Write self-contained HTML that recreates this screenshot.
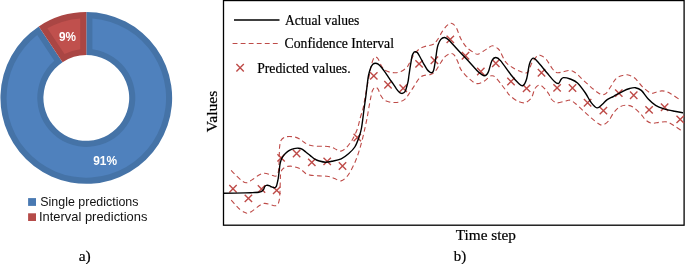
<!DOCTYPE html>
<html lang="en"><head><meta charset="utf-8"><title>Figure</title>
<style>html,body{margin:0;padding:0;background:#fff;}body{width:685px;height:264px;overflow:hidden;}svg{display:block;}</style></head>
<body>
<svg width="685" height="264" viewBox="0 0 685 264">
<rect width="685" height="264" fill="#fff"/>
<path d="M86.30,12.10 A85.85,85.85 0 1 1 38.79,26.44 L62.56,62.22 A42.90,42.90 0 1 0 86.30,55.05 Z" fill="#4573A7"/>
<path d="M38.79,26.44 A85.85,85.85 0 0 1 86.30,12.10 L86.30,55.05 A42.90,42.90 0 0 0 62.56,62.22 Z" fill="#AA4644"/>
<path d="M92.40,18.43 A79.75,79.75 0 1 1 37.22,35.09 L54.31,60.83 A49.00,49.00 0 1 0 92.40,49.33 Z" fill="#4F81BD"/>
<path d="M47.38,28.34 A79.75,79.75 0 0 1 80.20,18.43 L80.20,49.33 A49.00,49.00 0 0 0 64.48,54.08 Z" fill="#C0504D"/>
<g font-family="'Liberation Sans', 'DejaVu Sans', sans-serif" font-weight="bold" fill="#fff" font-size="13">
<text x="93.2" y="165.2" textLength="23.8" lengthAdjust="spacingAndGlyphs">91%</text>
<text x="59" y="40.5" textLength="17" lengthAdjust="spacingAndGlyphs">9%</text>
</g>
<rect x="28.1" y="198.1" width="7.9" height="7.8" fill="#4979B2"/>
<rect x="28.1" y="213.3" width="7.9" height="7.7" fill="#B54B49"/>
<g font-family="'Liberation Sans', 'DejaVu Sans', sans-serif" fill="#111" font-size="12.6">
<text x="40.3" y="206" textLength="98.2" lengthAdjust="spacingAndGlyphs">Single predictions</text>
<text x="39" y="221.2" textLength="108.4" lengthAdjust="spacingAndGlyphs">Interval predictions</text>
</g>
<rect x="223.5" y="0.55" width="460.6" height="224.65" fill="none" stroke="#000" stroke-width="1.3"/>
<path d="M231.10,170.40 C231.90,171.20 234.15,173.52 235.90,175.20 C237.65,176.88 239.87,179.23 241.60,180.50 C243.33,181.77 244.57,182.90 246.30,182.80 C248.03,182.70 249.95,181.15 252.00,179.90 C254.05,178.65 256.55,176.40 258.60,175.30 C260.65,174.20 262.23,173.37 264.30,173.30 C266.37,173.23 269.15,174.42 271.00,174.90 C272.85,175.38 274.23,176.43 275.40,176.20 C276.57,175.97 277.40,175.37 278.00,173.50 C278.60,171.63 278.78,168.08 279.00,165.00 C279.22,161.92 279.20,158.00 279.30,155.00 C279.40,152.00 279.30,149.45 279.60,147.00 C279.90,144.55 280.18,141.95 281.10,140.30 C282.02,138.65 283.68,137.73 285.10,137.10 C286.52,136.47 287.90,136.50 289.60,136.50 C291.30,136.50 293.58,136.67 295.30,137.10 C297.02,137.53 298.38,138.20 299.90,139.10 C301.42,140.00 302.88,141.50 304.40,142.50 C305.92,143.50 307.10,144.48 309.00,145.10 C310.90,145.72 313.13,146.00 315.80,146.20 C318.47,146.40 322.33,146.12 325.00,146.30 C327.67,146.48 329.92,146.75 331.80,147.30 C333.68,147.85 334.78,148.97 336.30,149.60 C337.82,150.23 339.20,151.45 340.90,151.10 C342.60,150.75 344.55,149.48 346.50,147.50 C348.45,145.52 350.78,142.32 352.60,139.20 C354.42,136.08 356.08,132.50 357.40,128.80 C358.72,125.10 359.53,120.47 360.50,117.00 C361.47,113.53 362.48,111.00 363.20,108.00 C363.92,105.00 364.27,102.00 364.80,99.00 C365.33,96.00 365.78,93.25 366.40,90.00 C367.02,86.75 367.77,83.25 368.50,79.50 C369.23,75.75 370.03,70.82 370.80,67.50 C371.57,64.18 372.33,61.35 373.10,59.60 C373.87,57.85 374.55,57.10 375.40,57.00 C376.25,56.90 377.25,57.62 378.20,59.00 C379.15,60.38 380.05,63.50 381.10,65.30 C382.15,67.10 383.08,68.67 384.50,69.80 C385.92,70.93 387.80,71.62 389.60,72.10 C391.40,72.58 393.40,72.80 395.30,72.70 C397.20,72.60 399.10,72.37 401.00,71.50 C402.90,70.63 405.28,68.92 406.70,67.50 C408.12,66.08 408.57,64.67 409.50,63.00 C410.43,61.33 411.25,59.27 412.30,57.50 C413.35,55.73 414.47,53.92 415.80,52.40 C417.13,50.88 418.60,49.45 420.30,48.40 C422.00,47.35 423.92,46.73 426.00,46.10 C428.08,45.47 430.97,45.55 432.80,44.60 C434.63,43.65 435.35,42.68 437.00,40.40 C438.65,38.12 440.97,33.43 442.70,30.90 C444.43,28.37 445.98,26.47 447.40,25.20 C448.82,23.93 449.77,22.98 451.20,23.30 C452.63,23.62 454.42,24.57 456.00,27.10 C457.58,29.63 458.97,35.18 460.70,38.50 C462.43,41.82 464.18,44.63 466.40,47.00 C468.62,49.37 472.07,51.50 474.00,52.70 C475.93,53.90 476.25,54.58 478.00,54.20 C479.75,53.82 482.80,51.43 484.50,50.40 C486.20,49.37 486.87,48.77 488.20,48.00 C489.53,47.23 490.90,45.72 492.50,45.80 C494.10,45.88 496.48,47.48 497.80,48.50 C499.12,49.52 499.17,49.75 500.40,51.90 C501.63,54.05 503.42,58.95 505.20,61.40 C506.98,63.85 508.55,64.92 511.10,66.60 C513.65,68.28 517.77,70.52 520.50,71.50 C523.23,72.48 525.63,73.87 527.50,72.50 C529.37,71.13 530.20,65.95 531.70,63.30 C533.20,60.65 535.12,57.95 536.50,56.60 C537.88,55.25 538.42,54.80 540.00,55.20 C541.58,55.60 543.90,56.70 546.00,59.00 C548.10,61.30 550.75,66.72 552.60,69.00 C554.45,71.28 555.40,72.23 557.10,72.70 C558.80,73.17 560.72,72.17 562.80,71.80 C564.88,71.43 567.70,70.48 569.60,70.50 C571.50,70.52 572.68,71.03 574.20,71.90 C575.72,72.77 577.18,74.32 578.70,75.70 C580.22,77.08 581.58,78.58 583.30,80.20 C585.02,81.82 587.30,83.88 589.00,85.40 C590.70,86.92 591.98,88.07 593.50,89.30 C595.02,90.53 596.67,91.90 598.10,92.80 C599.53,93.70 600.77,94.62 602.10,94.70 C603.43,94.78 604.78,94.45 606.10,93.30 C607.42,92.15 608.68,89.82 610.00,87.80 C611.32,85.78 612.83,82.87 614.00,81.20 C615.17,79.53 615.77,78.70 617.00,77.80 C618.23,76.90 619.72,76.30 621.40,75.80 C623.08,75.30 624.88,74.43 627.10,74.80 C629.32,75.17 632.17,76.03 634.70,78.00 C637.23,79.97 639.67,84.10 642.30,86.60 C644.93,89.10 648.22,92.07 650.50,93.00 C652.78,93.93 654.13,92.55 656.00,92.20 C657.87,91.85 659.87,90.97 661.70,90.90 C663.53,90.83 665.17,91.12 667.00,91.80 C668.83,92.48 670.33,93.53 672.70,95.00 C675.07,96.47 679.78,99.67 681.20,100.60" fill="none" stroke="#BE4B48" stroke-width="1.1" stroke-dasharray="4.85 3.2"/>
<path d="M231.20,200.10 C231.90,200.88 233.95,203.25 235.40,204.80 C236.85,206.35 238.38,208.15 239.90,209.40 C241.42,210.65 243.27,211.67 244.50,212.30 C245.73,212.93 246.17,213.30 247.30,213.20 C248.43,213.10 249.87,212.53 251.30,211.70 C252.73,210.87 254.38,209.33 255.90,208.20 C257.42,207.07 258.98,205.70 260.40,204.90 C261.82,204.10 262.87,203.52 264.40,203.40 C265.93,203.28 267.98,203.80 269.60,204.20 C271.22,204.60 272.78,205.70 274.10,205.80 C275.42,205.90 276.65,205.72 277.50,204.80 C278.35,203.88 278.82,202.00 279.20,200.30 C279.58,198.60 279.65,196.65 279.80,194.60 C279.95,192.55 280.00,190.93 280.10,188.00 C280.20,185.07 280.27,179.62 280.40,177.00 C280.53,174.38 280.62,173.52 280.90,172.30 C281.18,171.08 281.52,170.48 282.10,169.70 C282.68,168.92 283.45,168.15 284.40,167.60 C285.35,167.05 286.62,166.63 287.80,166.40 C288.98,166.17 290.37,166.13 291.50,166.20 C292.63,166.27 293.43,166.48 294.60,166.80 C295.77,167.12 297.27,167.53 298.50,168.10 C299.73,168.67 300.80,169.30 302.00,170.20 C303.20,171.10 304.37,172.68 305.70,173.50 C307.03,174.32 308.37,174.73 310.00,175.10 C311.63,175.47 313.62,175.55 315.50,175.70 C317.38,175.85 319.40,175.90 321.30,176.00 C323.20,176.10 325.33,176.13 326.90,176.30 C328.47,176.47 329.43,176.63 330.70,177.00 C331.97,177.37 332.78,177.85 334.50,178.50 C336.22,179.15 338.93,181.22 341.00,180.90 C343.07,180.58 345.20,178.42 346.90,176.60 C348.60,174.78 349.72,172.72 351.20,170.00 C352.68,167.28 354.43,163.63 355.80,160.30 C357.17,156.97 358.25,153.72 359.40,150.00 C360.55,146.28 361.72,141.92 362.70,138.00 C363.68,134.08 364.53,130.00 365.30,126.50 C366.07,123.00 366.72,120.08 367.30,117.00 C367.88,113.92 368.25,111.12 368.80,108.00 C369.35,104.88 369.98,101.22 370.60,98.30 C371.22,95.38 371.70,92.37 372.50,90.50 C373.30,88.63 374.45,87.28 375.40,87.10 C376.35,86.92 377.35,88.07 378.20,89.40 C379.05,90.73 379.55,93.40 380.50,95.10 C381.45,96.80 382.57,98.50 383.90,99.60 C385.23,100.70 386.78,101.22 388.50,101.70 C390.22,102.18 392.30,102.47 394.20,102.50 C396.10,102.53 398.10,102.47 399.90,101.90 C401.70,101.33 403.48,100.43 405.00,99.10 C406.52,97.77 407.58,95.90 409.00,93.90 C410.42,91.90 411.80,89.70 413.50,87.10 C415.20,84.50 417.48,80.23 419.20,78.30 C420.92,76.37 421.90,76.15 423.80,75.50 C425.70,74.85 428.72,75.07 430.60,74.40 C432.48,73.73 433.58,73.17 435.10,71.50 C436.62,69.83 438.18,66.73 439.70,64.40 C441.22,62.07 442.68,59.22 444.20,57.50 C445.72,55.78 447.57,54.77 448.80,54.10 C450.03,53.43 450.65,53.30 451.60,53.50 C452.55,53.70 453.45,53.87 454.50,55.30 C455.55,56.73 456.77,59.63 457.90,62.10 C459.03,64.57 459.40,67.30 461.30,70.10 C463.20,72.90 466.70,76.65 469.30,78.90 C471.90,81.15 474.37,83.25 476.90,83.60 C479.43,83.95 482.40,82.17 484.50,81.00 C486.60,79.83 488.22,77.47 489.50,76.60 C490.78,75.73 491.17,75.65 492.20,75.80 C493.23,75.95 494.17,76.05 495.70,77.50 C497.23,78.95 499.50,82.08 501.40,84.50 C503.30,86.92 505.75,90.22 507.10,92.00 C508.45,93.78 507.83,93.72 509.50,95.20 C511.17,96.68 514.57,99.63 517.10,100.90 C519.63,102.17 522.33,103.28 524.70,102.80 C527.07,102.32 529.58,100.38 531.30,98.00 C533.02,95.62 533.62,90.65 535.00,88.50 C536.38,86.35 538.02,85.10 539.60,85.10 C541.18,85.10 542.97,87.02 544.50,88.50 C546.03,89.98 547.68,92.25 548.80,94.00 C549.92,95.75 549.85,97.53 551.20,99.00 C552.55,100.47 554.68,102.42 556.90,102.80 C559.12,103.18 562.60,101.72 564.50,101.30 C566.40,100.88 567.18,100.43 568.30,100.30 C569.42,100.17 569.93,99.88 571.20,100.50 C572.47,101.12 573.85,102.25 575.90,104.00 C577.95,105.75 580.97,108.70 583.50,111.00 C586.03,113.30 588.58,115.68 591.10,117.80 C593.62,119.92 596.65,122.52 598.60,123.70 C600.55,124.88 601.15,125.35 602.80,124.90 C604.45,124.45 606.67,123.05 608.50,121.00 C610.33,118.95 611.97,114.93 613.80,112.60 C615.63,110.27 617.47,108.23 619.50,107.00 C621.53,105.77 623.78,105.20 626.00,105.20 C628.22,105.20 630.40,105.58 632.80,107.00 C635.20,108.42 638.18,111.47 640.40,113.70 C642.62,115.93 644.20,118.82 646.10,120.40 C648.00,121.98 649.58,122.88 651.80,123.20 C654.02,123.52 656.87,122.52 659.40,122.30 C661.93,122.08 664.48,121.28 667.00,121.90 C669.52,122.52 672.13,124.58 674.50,126.00 C676.87,127.42 680.08,129.67 681.20,130.40" fill="none" stroke="#BE4B48" stroke-width="1.1" stroke-dasharray="4.85 3.2"/>
<path d="M229.3,185.1 l7.4,7.4 M229.3,192.5 l7.4,-7.4 M244.7,194.7 l7.4,7.4 M244.7,202.1 l7.4,-7.4 M257.8,185.3 l7.4,7.4 M257.8,192.7 l7.4,-7.4 M273.0,186.7 l7.4,7.4 M273.0,194.1 l7.4,-7.4 M277.4,154.2 l7.4,7.4 M277.4,161.6 l7.4,-7.4 M292.9,149.8 l7.4,7.4 M292.9,157.2 l7.4,-7.4 M308.1,158.7 l7.4,7.4 M308.1,166.1 l7.4,-7.4 M323.5,157.7 l7.4,7.4 M323.5,165.1 l7.4,-7.4 M338.8,162.3 l7.4,7.4 M338.8,169.7 l7.4,-7.4 M353.6,133.8 l7.4,7.4 M353.6,141.2 l7.4,-7.4 M370.1,72.2 l7.4,7.4 M370.1,79.6 l7.4,-7.4 M384.3,81.1 l7.4,7.4 M384.3,88.5 l7.4,-7.4 M399.5,84.5 l7.4,7.4 M399.5,91.9 l7.4,-7.4 M415.4,60.2 l7.4,7.4 M415.4,67.6 l7.4,-7.4 M430.7,56.5 l7.4,7.4 M430.7,63.9 l7.4,-7.4 M446.6,35.7 l7.4,7.4 M446.6,43.1 l7.4,-7.4 M461.8,52.1 l7.4,7.4 M461.8,59.5 l7.4,-7.4 M477.1,67.8 l7.4,7.4 M477.1,75.2 l7.4,-7.4 M492.1,59.5 l7.4,7.4 M492.1,66.9 l7.4,-7.4 M507.3,77.8 l7.4,7.4 M507.3,85.2 l7.4,-7.4 M522.9,84.7 l7.4,7.4 M522.9,92.1 l7.4,-7.4 M537.8,69.1 l7.4,7.4 M537.8,76.5 l7.4,-7.4 M553.4,84.2 l7.4,7.4 M553.4,91.6 l7.4,-7.4 M568.8,84.3 l7.4,7.4 M568.8,91.7 l7.4,-7.4 M583.9,99.1 l7.4,7.4 M583.9,106.5 l7.4,-7.4 M599.7,106.9 l7.4,7.4 M599.7,114.3 l7.4,-7.4 M615.1,89.4 l7.4,7.4 M615.1,96.8 l7.4,-7.4 M630.0,91.5 l7.4,7.4 M630.0,98.9 l7.4,-7.4 M645.4,106.2 l7.4,7.4 M645.4,113.6 l7.4,-7.4 M660.9,103.5 l7.4,7.4 M660.9,110.9 l7.4,-7.4 M676.5,115.7 l7.4,7.4 M676.5,123.1 l7.4,-7.4 M236.4,64.1 l7.4,7.4 M236.4,71.5 l7.4,-7.4" fill="none" stroke="#BE4B48" stroke-width="1.4"/>
<path d="M223.50,193.30 C227.08,193.23 240.15,193.02 245.00,192.90 C249.85,192.78 250.32,192.70 252.60,192.60 C254.88,192.50 257.18,192.50 258.70,192.30 C260.22,192.10 260.88,191.88 261.70,191.40 C262.52,190.92 263.12,190.15 263.60,189.40 C264.08,188.65 264.22,187.55 264.60,186.90 C264.98,186.25 265.43,185.78 265.90,185.50 C266.37,185.22 266.83,185.17 267.40,185.20 C267.97,185.23 268.60,185.42 269.30,185.70 C270.00,185.98 270.83,186.57 271.60,186.90 C272.37,187.23 273.30,187.60 273.90,187.70 C274.50,187.80 274.80,187.72 275.20,187.50 C275.60,187.28 276.00,186.97 276.30,186.40 C276.60,185.83 276.77,185.00 277.00,184.10 C277.23,183.20 277.48,182.02 277.70,181.00 C277.92,179.98 278.05,179.67 278.30,178.00 C278.55,176.33 278.93,173.17 279.20,171.00 C279.47,168.83 279.60,166.80 279.90,165.00 C280.20,163.20 280.57,161.52 281.00,160.20 C281.43,158.88 281.77,158.20 282.50,157.10 C283.23,156.00 284.25,154.72 285.40,153.60 C286.55,152.48 287.97,151.23 289.40,150.40 C290.83,149.57 292.52,148.97 294.00,148.60 C295.48,148.23 296.97,148.10 298.30,148.20 C299.63,148.30 300.75,148.57 302.00,149.20 C303.25,149.83 304.42,150.93 305.80,152.00 C307.18,153.07 308.72,154.37 310.30,155.60 C311.88,156.83 313.80,158.50 315.30,159.40 C316.80,160.30 317.60,160.53 319.30,161.00 C321.00,161.47 323.43,162.15 325.50,162.20 C327.57,162.25 329.08,161.87 331.70,161.30 C334.32,160.73 338.35,160.10 341.20,158.80 C344.05,157.50 346.53,155.47 348.80,153.50 C351.07,151.53 353.12,149.67 354.80,147.00 C356.48,144.33 357.78,140.67 358.90,137.50 C360.02,134.33 360.62,132.92 361.50,128.00 C362.38,123.08 363.45,113.48 364.20,108.00 C364.95,102.52 365.50,98.97 366.00,95.10 C366.50,91.23 366.78,88.07 367.20,84.80 C367.62,81.53 367.90,78.38 368.50,75.50 C369.10,72.62 370.03,69.40 370.80,67.50 C371.57,65.60 372.33,64.82 373.10,64.10 C373.87,63.38 374.55,63.20 375.40,63.20 C376.25,63.20 377.17,63.38 378.20,64.10 C379.23,64.82 380.27,65.88 381.60,67.50 C382.93,69.12 384.67,71.62 386.20,73.80 C387.73,75.98 389.67,78.95 390.80,80.60 C391.93,82.25 392.07,82.33 393.00,83.70 C393.93,85.07 395.35,87.38 396.40,88.80 C397.45,90.22 398.43,91.43 399.30,92.20 C400.17,92.97 400.85,93.30 401.60,93.40 C402.35,93.50 403.13,93.28 403.80,92.80 C404.47,92.32 405.08,91.63 405.60,90.50 C406.12,89.37 406.48,87.52 406.90,86.00 C407.32,84.48 407.75,83.23 408.10,81.40 C408.45,79.57 408.58,77.83 409.00,75.00 C409.42,72.17 410.05,67.68 410.60,64.40 C411.15,61.12 411.73,57.33 412.30,55.30 C412.87,53.27 413.47,52.80 414.00,52.20 C414.53,51.60 414.92,51.60 415.50,51.70 C416.08,51.80 416.70,51.83 417.50,52.80 C418.30,53.77 419.27,55.67 420.30,57.50 C421.33,59.33 422.57,61.80 423.70,63.80 C424.83,65.80 426.05,68.10 427.10,69.50 C428.15,70.90 429.27,71.67 430.00,72.20 C430.73,72.73 430.98,72.80 431.50,72.70 C432.02,72.60 432.65,72.42 433.10,71.60 C433.55,70.78 433.77,69.95 434.20,67.80 C434.63,65.65 435.27,61.55 435.70,58.70 C436.13,55.85 436.42,52.98 436.80,50.70 C437.18,48.42 437.33,46.88 438.00,45.00 C438.67,43.12 439.70,40.65 440.80,39.40 C441.90,38.15 443.23,37.37 444.60,37.50 C445.97,37.63 446.85,38.20 449.00,40.20 C451.15,42.20 454.50,46.28 457.50,49.50 C460.50,52.72 463.77,56.02 467.00,59.50 C470.23,62.98 474.48,67.93 476.90,70.40 C479.32,72.87 480.18,73.40 481.50,74.30 C482.82,75.20 483.85,75.85 484.80,75.80 C485.75,75.75 486.52,74.90 487.20,74.00 C487.88,73.10 488.10,72.65 488.90,70.40 C489.70,68.15 490.85,62.65 492.00,60.50 C493.15,58.35 494.38,57.48 495.80,57.50 C497.22,57.52 497.98,57.73 500.50,60.60 C503.02,63.47 507.90,70.93 510.90,74.70 C513.90,78.47 516.50,81.38 518.50,83.20 C520.50,85.02 521.55,86.30 522.90,85.60 C524.25,84.90 525.50,82.60 526.60,79.00 C527.70,75.40 528.42,67.47 529.50,64.00 C530.58,60.53 531.77,58.62 533.10,58.20 C534.43,57.78 535.20,59.07 537.50,61.50 C539.80,63.93 544.07,69.47 546.90,72.80 C549.73,76.13 552.57,79.72 554.50,81.50 C556.43,83.28 557.42,83.83 558.50,83.50 C559.58,83.17 560.17,80.48 561.00,79.50 C561.83,78.52 561.97,77.68 563.50,77.60 C565.03,77.52 567.87,78.10 570.20,79.00 C572.53,79.90 574.97,80.67 577.50,83.00 C580.03,85.33 583.15,89.78 585.40,93.00 C587.65,96.22 589.07,99.82 591.00,102.30 C592.93,104.78 595.10,107.57 597.00,107.90 C598.90,108.23 600.75,105.63 602.40,104.30 C604.05,102.97 605.02,101.23 606.90,99.90 C608.78,98.57 611.05,97.73 613.70,96.30 C616.35,94.87 620.13,92.60 622.80,91.30 C625.47,90.00 627.60,89.10 629.70,88.50 C631.80,87.90 633.47,87.38 635.40,87.70 C637.33,88.02 639.20,88.57 641.30,90.40 C643.40,92.23 645.62,96.22 648.00,98.70 C650.38,101.18 652.93,103.62 655.60,105.30 C658.27,106.98 660.85,107.80 664.00,108.80 C667.15,109.80 671.33,110.63 674.50,111.30 C677.67,111.97 681.58,112.55 683.00,112.80" fill="none" stroke="#000" stroke-width="1.4" stroke-linejoin="round"/>
<path d="M234,20 H279.5" stroke="#000" stroke-width="1.4"/>
<path d="M232.6,43.5 H278" stroke="#BE4B48" stroke-width="1.05" stroke-dasharray="4.85 3.2"/>
<g font-family="'Liberation Serif', 'DejaVu Serif', serif" fill="#000" stroke="#000" stroke-width="0.2">
<text x="285" y="24.7" font-size="14.4" textLength="74.3" lengthAdjust="spacingAndGlyphs">Actual values</text>
<text x="284.6" y="48.2" font-size="14.4" textLength="109.4" lengthAdjust="spacingAndGlyphs">Confidence Interval</text>
<text x="257.2" y="72.6" font-size="14.4" textLength="93.4" lengthAdjust="spacingAndGlyphs">Predicted values.</text>
<text x="455.8" y="239.6" font-size="15" textLength="60.2" lengthAdjust="spacingAndGlyphs">Time step</text>
<text x="453.7" y="260.5" font-size="15" textLength="12.4" lengthAdjust="spacingAndGlyphs">b)</text>
<text x="78.7" y="260.6" font-size="15" textLength="12.1" lengthAdjust="spacingAndGlyphs">a)</text>
<text transform="translate(216.9,132.3) rotate(-90)" font-size="15.2" textLength="41.7" lengthAdjust="spacingAndGlyphs">Values</text>
</g>
</svg>
</body></html>
